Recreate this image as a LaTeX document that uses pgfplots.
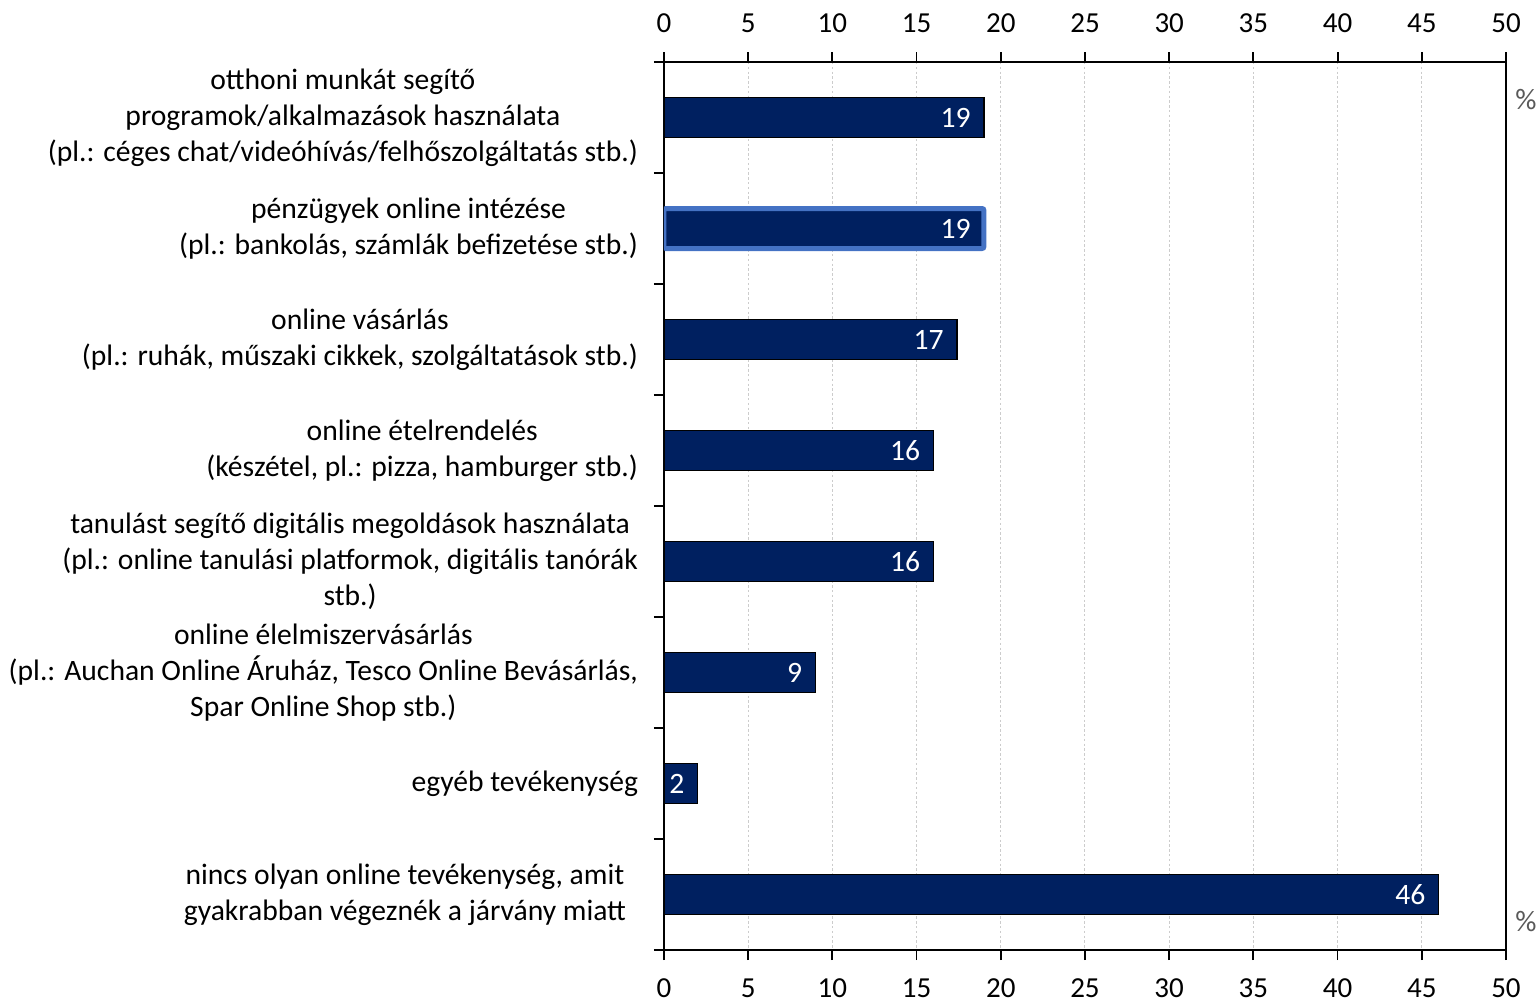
\documentclass[border=0pt]{standalone}
\usepackage{pgfplots}
\usepackage{pgfplotstable}
\usepackage{fontspec}
\setmainfont{Carlito}
\pgfplotsset{compat=1.18}
\definecolor{navy}{RGB}{0,32,96}
\definecolor{hl}{RGB}{68,114,196}
\definecolor{pgray}{RGB}{89,89,89}
\pgfplotstableread{
x y lab
19 0 19
19 1 19
17.4 2 17
16 3 16
16 4 16
9 5 9
2 6 2
46 7 46
}\data
\begin{document}
\begin{tikzpicture}[font=\fontsize{14.8}{18}\selectfont]
\pgfplotsset{
  common/.style={
    at={(0,0)}, anchor=south west,
    scale only axis, width=421pt, height=444pt,
    xmin=0, xmax=50, ymin=-0.5, ymax=7.5, y dir=reverse,
    xtick={0,5,...,50},
    tick align=outside, major tick length=5pt,
    /pgf/number format/assume math mode=true,
    tick label style={font=\fontsize{14.5}{18}\selectfont},
    axis line style={line width=0.9pt},
    every tick/.style={line width=0.9pt, black},
  }
}
\begin{axis}[common,
    xtick pos=both, xticklabel pos=bottom,
    xticklabel style={yshift=-6pt},
    ytick={-0.5,0.5,...,7.5}, yticklabels={}, ytick pos=left,
    extra y ticks={0,1,2,3,4,5,6,7},
    extra y tick style={tick style={draw=none}, tick label style={align=center, xshift=-4.5pt, font=\fontsize{14.8}{18}\selectfont}},
    extra y tick labels={
      {otthoni munkát segítő\\programok/alkalmazások használata\\(pl.: céges chat/videóhívás/felhőszolgáltatás stb.)},
      {pénzügyek online intézése\\(pl.: bankolás, számlák befizetése stb.)},
      {online vásárlás\\(pl.: ruhák, műszaki cikkek, szolgáltatások stb.)},
      {online ételrendelés\\(készétel, pl.: pizza, hamburger stb.)},
      {tanulást segítő digitális megoldások használata\\(pl.: online tanulási platformok, digitális tanórák\\stb.)},
      {online élelmiszervásárlás\\(pl.: Auchan Online Áruház, Tesco Online Bevásárlás,\\Spar Online Shop stb.)},
      {egyéb tevékenység},
      {nincs olyan online tevékenység, amit\hspace*{6pt}\\gyakrabban végeznék a járvány miatt\hspace*{6pt}}
    },
    xmajorgrids,
    major grid style={draw=gray!40, line width=0.5pt, dash pattern=on 1.2pt off 1.2pt},
    xbar, bar width=20pt, bar shift=0pt,
  ]
  \addplot[fill=navy, draw=black, line width=0.7pt,
    point meta=explicit symbolic,
    nodes near coords={\pgfplotspointmeta},
    nodes near coords style={anchor=east, xshift=-3pt, text=white, font=\fontsize{14.8}{18}\selectfont},
  ] table[x=x, y=y, meta=lab] {\data};
  \addplot[fill=none, draw=hl, line width=2.5pt, rounded corners=1pt] coordinates {(19,1)};
\end{axis}
\begin{axis}[common, clip=false,
    axis x line*=top, axis y line=none,
    xticklabel pos=top,
    xticklabel style={yshift=6pt},
  ]
  \node[text=pgray, anchor=center] at ([xshift=10pt, yshift=-19pt]rel axis cs:1,1) {\%};
  \node[text=pgray, anchor=center] at ([xshift=10pt, yshift=14pt]rel axis cs:1,0) {\%};
\end{axis}
\pgfresetboundingbox
\path[use as bounding box] (-332pt,-25pt) rectangle (437pt,475pt);
\end{tikzpicture}
\end{document}
